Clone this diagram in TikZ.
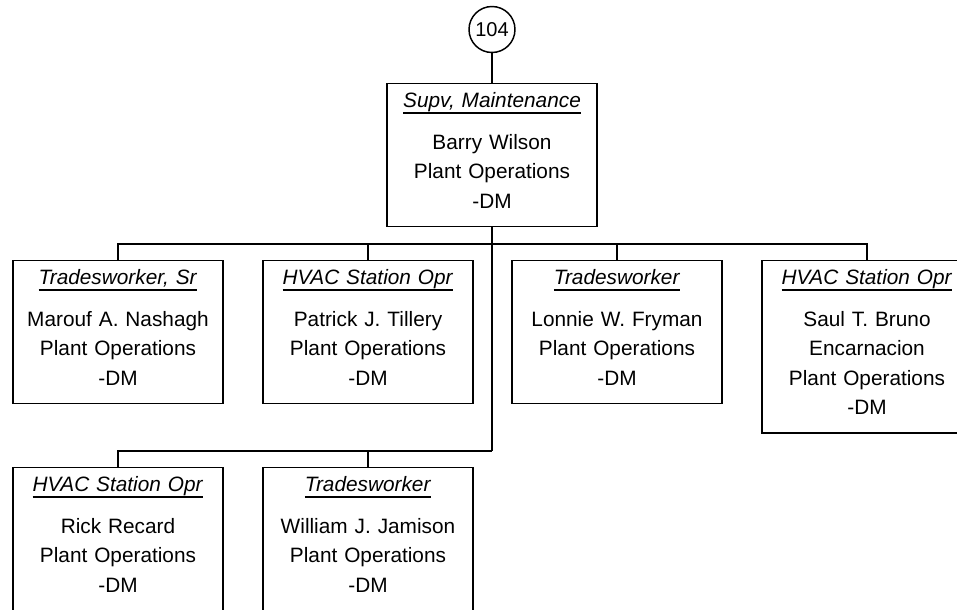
\documentclass[tikz,border=0pt]{standalone}
\usepackage{fontspec}
\setmainfont{Liberation Sans}
\newsavebox{\titlebox}
\newcommand{\postfont}{\fontsize{15.6pt}{22.1pt}\selectfont}
\newcommand{\jobtitle}[1]{\rule{0pt}{17.6pt}\sbox{\titlebox}{\textit{#1}}%
    \rlap{\rule[-5pt]{\wd\titlebox}{1.2pt}}\usebox{\titlebox}\\[9.4pt]}
\newcommand{\lastdm}{-DM\rule[-13.9pt]{0pt}{13.9pt}}
\tikzset{
    post/.style={draw, anchor=north, text width=157.5pt, align=center,
        inner xsep=0pt, inner ysep=0pt, font=\postfont},
    chartref/.style={draw, circle, minimum size=34.5pt, inner sep=0pt,
        font=\fontsize{15pt}{16pt}\selectfont}
}
\begin{document}
\begin{tikzpicture}[x=0.75pt, y=-0.75pt, line width=1.1pt]
    \useasboundingbox (0,0) rectangle (957,610);
    \clip (0,0) rectangle (957,609.4);
    \node[chartref] (chart) at (492,29.5) {104};
    \node[post] (wilson) at (492,83) {\jobtitle{Supv, Maintenance}Barry Wilson\\Plant Operations\\\lastdm};
    \node[post] (nashagh) at (118,260) {\jobtitle{Tradesworker, Sr}Marouf A. Nashagh\\Plant Operations\\\lastdm};
    \node[post] (tillery) at (368,260) {\jobtitle{HVAC Station Opr}Patrick J. Tillery\\Plant Operations\\\lastdm};
    \node[post] (fryman) at (617,260) {\jobtitle{Tradesworker}Lonnie W. Fryman\\Plant Operations\\\lastdm};
    \node[post] (bruno) at (867,260) {\jobtitle{HVAC Station Opr}Saul T. Bruno\\Encarnacion\\Plant Operations\\\lastdm};
    \node[post] (recard) at (118,467) {\jobtitle{HVAC Station Opr}Rick Recard\\Plant Operations\\\lastdm};
    \node[post] (jamison) at (368,467) {\jobtitle{Tradesworker}William J. Jamison\\Plant Operations\\\lastdm};
    \coordinate (bus1) at (492,244);
    \coordinate (bus2) at (492,451);
    \draw (chart) -- (wilson);
    \draw (wilson) -- (bus2);
    \draw (nashagh.north) |- (bus1) -| (bruno.north);
    \draw (tillery.north) -- (tillery.north |- bus1);
    \draw (fryman.north) -- (fryman.north |- bus1);
    \draw (recard.north) |- (bus2);
    \draw (jamison.north) -- (jamison.north |- bus2);
\end{tikzpicture}
\end{document}
